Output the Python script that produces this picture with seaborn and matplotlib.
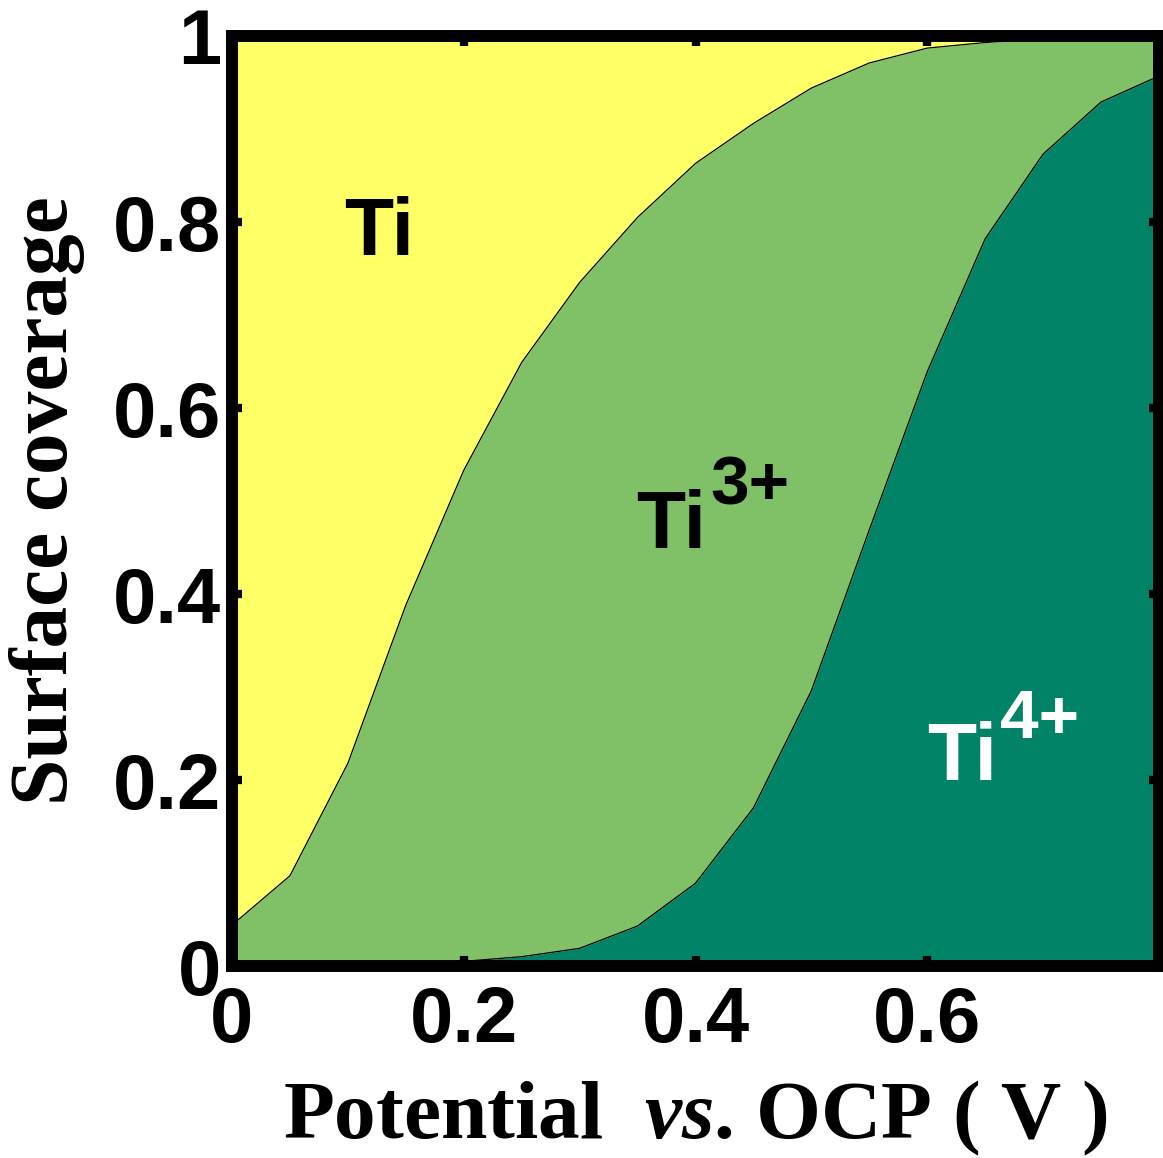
import numpy as np
import pandas as pd
import seaborn as sns
import matplotlib
matplotlib.use("Agg")
import matplotlib.pyplot as plt

# Potential (V vs. OCP) and surface fraction of each titanium oxidation state
potential = [0.00, 0.05, 0.10, 0.15, 0.20, 0.25, 0.30, 0.35, 0.40,
             0.45, 0.50, 0.55, 0.60, 0.65, 0.70, 0.75, 0.80]
frac_ti4 = [0.000, 0.000, 0.000, 0.001, 0.005, 0.010, 0.019, 0.043, 0.089,
            0.170, 0.296, 0.469, 0.639, 0.782, 0.873, 0.929, 0.957]
frac_ti3 = [0.044, 0.097, 0.218, 0.387, 0.528, 0.639, 0.716, 0.762, 0.774,
            0.736, 0.648, 0.502, 0.348, 0.211, 0.124, 0.070, 0.043]
frac_ti = [0.956, 0.903, 0.782, 0.612, 0.467, 0.351, 0.265, 0.195, 0.137,
           0.094, 0.056, 0.029, 0.013, 0.007, 0.003, 0.001, 0.000]

x_ticks = [0.0, 0.2, 0.4, 0.6]
x_ticklabels = ["0", "0.2", "0.4", "0.6"]
y_ticks = [0.0, 0.2, 0.4, 0.6, 0.8, 1.0]
y_ticklabels = ["0", "0.2", "0.4", "0.6", "0.8", "1"]

colors = {"Ti4": "#008366", "Ti3": "#80C066", "Ti": "#FFFF66"}

df = pd.DataFrame({"E": potential, "Ti4": frac_ti4, "Ti3": frac_ti3, "Ti": frac_ti})
df["lower"] = df["Ti4"]
df["middle"] = df["Ti4"] + df["Ti3"]
df["upper"] = df["middle"] + df["Ti"]

sns.set_theme(style="white")
plt.rcParams["font.family"] = ["Liberation Sans", "DejaVu Sans"]
plt.rcParams["mathtext.fontset"] = "custom"
plt.rcParams["mathtext.rm"] = "Liberation Serif:bold"
plt.rcParams["mathtext.it"] = "Liberation Serif:bold:italic"
for key in ["text.color", "axes.labelcolor", "xtick.color", "ytick.color"]:
    plt.rcParams[key] = "black"

fig = plt.figure(figsize=(11.63, 11.58), dpi=100)
ax = fig.add_axes([232 / 1163, 1 - 966 / 1158, (1159 - 232) / 1163, (966 - 36) / 1158])

# stacked areas
ax.fill_between(df["E"], 0, df["lower"], color=colors["Ti4"], linewidth=0, zorder=1)
ax.fill_between(df["E"], df["lower"], df["middle"], color=colors["Ti3"], linewidth=0, zorder=1)
ax.fill_between(df["E"], df["middle"], df["upper"], color=colors["Ti"], linewidth=0, zorder=1)

# boundary lines between the regions
sns.lineplot(data=df, x="E", y="lower", color="black", linewidth=0.9, ax=ax, zorder=2)
sns.lineplot(data=df, x="E", y="middle", color="black", linewidth=0.9, ax=ax, zorder=2)

ax.set_xlim(0, 0.8)
ax.set_ylim(0, 1)
ax.set_xticks(x_ticks)
ax.set_xticklabels(x_ticklabels)
ax.set_yticks(y_ticks)
ax.set_yticklabels(y_ticklabels)
ax.set_axisbelow(False)

for side in ["left", "right", "top", "bottom"]:
    ax.spines[side].set_visible(True)
    ax.spines[side].set_linewidth(8.6)
    ax.spines[side].set_color("black")
    ax.spines[side].set_zorder(5)

ax.tick_params(axis="both", which="both", direction="in", length=7, width=6,
               color="black", labelcolor="black", top=True, right=True,
               bottom=True, left=True, labelsize=56)
ax.tick_params(axis="x", pad=14)
ax.tick_params(axis="y", pad=8)
for lab in ax.get_xticklabels() + ax.get_yticklabels():
    lab.set_fontweight("bold")
    lab.set_family(["Liberation Sans", "DejaVu Sans"])

ax.set_xlabel(r"Potential  $\mathit{vs}$. OCP ( V )", fontsize=60,
              family=["Liberation Serif"], fontweight="bold", color="black")
ax.set_ylabel("Surface coverage", fontsize=60,
              family=["Liberation Serif"], fontweight="bold", color="black")
ax.xaxis.label.set_va("baseline")
ax.xaxis.set_label_coords(0.5, -0.185)
ax.yaxis.label.set_va("center")
ax.yaxis.set_label_coords(-0.2, 0.5)

# region labels
lab_kw = dict(fontsize=58, fontweight="bold", family=["Liberation Sans"],
              ha="left", va="baseline", zorder=4)
sup_kw = dict(fontsize=50, fontweight="bold", family=["Liberation Sans"],
              ha="left", va="baseline", zorder=4)
ax.text(0.097, 0.765, "Ti", color="black", **lab_kw)
ax.text(0.349, 0.449, "Ti", color="black", **lab_kw)
ax.text(0.413, 0.496, "3+", color="black", **sup_kw)
ax.text(0.600, 0.200, "Ti", color="white", **lab_kw)
ax.text(0.663, 0.245, "4+", color="white", **sup_kw)

fig.savefig("out.png", dpi=100)
